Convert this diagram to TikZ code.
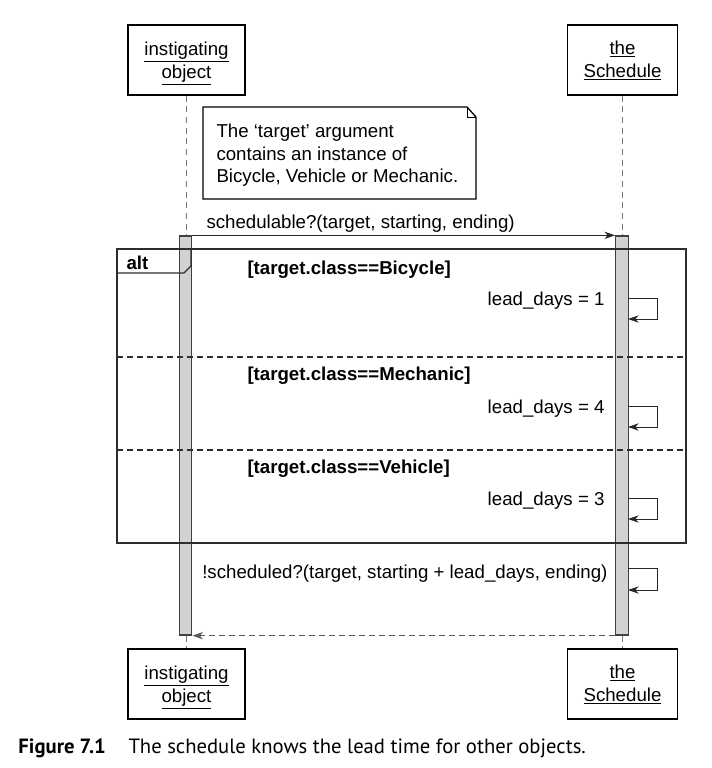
\documentclass[tikz,border=0pt]{standalone}
\usepackage{fontspec}
\setmainfont{Liberation Sans}
\newfontfamily\captionsans{PT Sans}
\usetikzlibrary{arrows.meta}

\definecolor{barfill}{RGB}{208,210,212}
\definecolor{lifegray}{RGB}{120,120,120}
\definecolor{framegray}{RGB}{45,45,45}

\tikzset{every picture/.style={line width=0.75pt}}
\tikzset{
  txt/.style={inner sep=0pt, font=\fontsize{14}{17.25}\selectfont},
  guard/.style={txt, font=\fontsize{14}{17.25}\selectfont\bfseries},
  objbox/.style={draw, line width=1pt, minimum width=#1, minimum height=52.5pt, inner sep=0pt},
  objtext/.style={txt, align=center},
  actbar/.style={draw=black!75, fill=barfill, line width=1pt, minimum width=9.4pt, minimum height=299.25pt, inner sep=0pt},
  lifeline/.style={draw=lifegray, line width=1.1pt, dash pattern=on 4.5pt off 3.5pt},
  msg/.style={-{Stealth[length=8pt, width=5.5pt, inset=2.5pt]}, draw=black!85},
  retmsg/.style={msg, draw=black!65, dash pattern=on 4.5pt off 3pt},
  altsep/.style={draw=framegray, line width=1pt, dash pattern=on 4.5pt off 3pt}
}

\begin{document}
\begin{tikzpicture}[x=0.75pt,y=0.75pt,yscale=-1,xscale=1]
\path[use as bounding box] (0,0) rectangle (712,768);

%Shape: Object boxes
\node[objbox=87.75pt] (objTopL) at (186.5,60) {};
\node[objbox=82.5pt] (objTopR) at (622.5,60) {};
\node[objbox=87.75pt] (objBotL) at (186.5,684) {};
\node[objbox=82.5pt] (objBotR) at (622.5,684) {};
% Text Node
\node[objtext] (objTopLText) at (186.5,63.5) {\underline{instigating}\\\underline{object}};
\node[objtext] (objTopRText) at (622.5,60.5) {\underline{the}\\\underline{Schedule}};
\node[objtext] (objBotLText) at (186.5,687.5) {\underline{instigating}\\\underline{object}};
\node[objtext] (objBotRText) at (622.5,684.5) {\underline{the}\\\underline{Schedule}};

%Shape: Activation bars
\node[actbar] (barL) at (185.5,435.5) {};
\node[actbar] (barR) at (622,435.5) {};

%Dashed Lines: lifelines
\draw[lifeline] (objTopL.south) -- (objTopL.south |- barL.north);
\draw[lifeline] (objTopR.south) -- (objTopR.south |- barR.north);
\draw[lifeline] (objBotL.north |- barL.south) -- (objBotL.north);
\draw[lifeline] (objBotR.north |- barR.south) -- (objBotR.north);

%Shape: Note with folded corner
\draw[line width=1pt, fill=white] (203,107) -- (467,107) -- (476,117) -- (476,199) -- (203,199) -- cycle;
\draw[line width=0.6pt] (467,107) -- (467,117) -- (476,117);
% Text Node
\node[txt, anchor=north west, align=left, font=\fontsize{14}{16.9}\selectfont] (noteText) at (216,123.5) {The ‘target’ argument\\contains an instance of\\Bicycle, Vehicle or Mechanic.};

%Straight Lines: call
\draw[msg] (barL.north east) -- (barR.north west);
% Text Node
\node[txt, anchor=base west] (callText) at (206,228) {schedulable?(target, starting, ending)};

%Shape: alt frame
\draw[draw=framegray, line width=1.3pt] (117,249) rectangle (686,543);
\draw[draw=framegray, line width=1pt] (117,273) -- (184,273) -- (191,266) -- (191,249);
\node[guard, anchor=base west] (altText) at (126,269) {alt};
\draw[altsep] (117,357) -- (686,357);
\draw[altsep] (117,450) -- (686,450);

% Text Node
\node[guard, anchor=base west] (guardBike) at (247,274) {[target.class==Bicycle]};
\node[guard, anchor=base west] (guardMech) at (247,380) {[target.class==Mechanic]};
\node[guard, anchor=base west] (guardVeh) at (247,473) {[target.class==Vehicle]};

%Self messages
\coordinate (loopBike) at (628,298);
\coordinate (loopMech) at (628,406);
\coordinate (loopVeh) at (628,498);
\coordinate (loopSched) at (628,568);
\draw[msg] (loopBike) -- ++(29,0) -- ++(0,21) -- ++(-29,0);
\draw[msg] (loopMech) -- ++(29,0) -- ++(0,21) -- ++(-29,0);
\draw[msg] (loopVeh) -- ++(29,0) -- ++(0,21) -- ++(-29,0);
\draw[msg] (loopSched) -- ++(29,0) -- ++(0,22) -- ++(-29,0);
% Text Node
\node[txt, anchor=base east] (leadBike) at (605,305) {lead\_days = 1};
\node[txt, anchor=base east] (leadMech) at (605,413) {lead\_days = 4};
\node[txt, anchor=base east] (leadVeh) at (605,505) {lead\_days = 3};
\node[txt, anchor=base east] (schedText) at (608,578) {!scheduled?(target, starting + lead\_days, ending)};

%Dashed Lines: return
\draw[retmsg] (barR.south west) -- (barL.south east);

% Text Node: caption
\node[anchor=base west, inner sep=0pt, font=\captionsans\fontsize{15.5}{18}\selectfont\bfseries] (figNo) at (18,753) {Figure 7.1};
\node[anchor=base west, inner sep=0pt, font=\captionsans\fontsize{15.5}{18}\selectfont] (figCaption) at (128,753) {The schedule knows the lead time for other objects.};
\end{tikzpicture}
\end{document}
